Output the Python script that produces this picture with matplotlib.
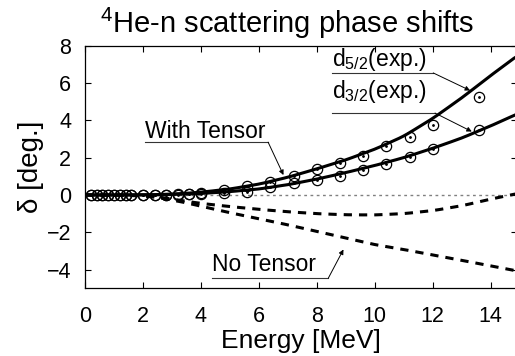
import numpy as np
import matplotlib
matplotlib.use("Agg")
import matplotlib.pyplot as plt

plt.rcParams['font.family'] = ['Liberation Sans', 'DejaVu Sans']
plt.rcParams['mathtext.fontset'] = 'custom'
plt.rcParams['mathtext.rm'] = 'Liberation Sans'
plt.rcParams['mathtext.it'] = 'Liberation Sans'

# experimental phase shifts
e_exp = [0.2, 0.4, 0.6, 0.8, 1.0, 1.2, 1.4, 1.6, 2.0, 2.4, 2.8, 3.2, 3.6, 4.0,
         4.8, 5.6, 6.4, 7.2, 8.0, 8.8, 9.6, 10.4, 11.2, 12.0, 13.6]
d52_exp = [0, 0, 0, 0, 0, 0, 0, 0, 0, 0.01, 0.02, 0.04, 0.07, 0.12,
           0.27, 0.48, 0.72, 1.0, 1.38, 1.7, 2.1, 2.6, 3.1, 3.76, 5.23]
d32_exp = [0, 0, 0, 0, 0, 0, 0, 0, 0, 0, 0.01, 0.02, 0.03, 0.05,
           0.08, 0.18, 0.41, 0.63, 0.8, 1.02, 1.34, 1.67, 2.06, 2.47, 3.5]

# calculations
e_calc = [0, 1, 2, 2.5, 3, 3.5, 4, 5, 6, 7, 8, 9, 10, 11, 12, 13, 14, 15]
d52_tensor = [0, 0, 0.01, 0.02, 0.05, 0.09, 0.15, 0.32, 0.58, 0.95, 1.4, 1.88,
              2.45, 3.15, 4.1, 5.2, 6.4, 7.55]
d32_tensor = [0, 0, 0, 0.01, 0.03, 0.05, 0.08, 0.18, 0.32, 0.55, 0.85, 1.2,
              1.58, 2.0, 2.5, 3.05, 3.7, 4.4]
d52_none = [0, 0, -0.03, -0.1, -0.22, -0.34, -0.45, -0.62, -0.77, -0.9, -1.0,
            -1.06, -1.07, -1.0, -0.84, -0.58, -0.22, 0.1]
d32_none = [0, 0, -0.05, -0.13, -0.27, -0.42, -0.6, -0.95, -1.27, -1.6, -1.95,
            -2.3, -2.66, -2.92, -3.22, -3.5, -3.8, -4.1]


def smooth(x, y):
    # linear interpolation on a fine grid, then a short moving average
    xs = np.linspace(x[0], x[-1], 300)
    ys = np.interp(xs, x, y)
    k = 9
    ker = np.ones(k) / k
    yp = np.concatenate([np.full(k // 2, ys[0]), ys, np.full(k // 2, ys[-1])])
    return xs, np.convolve(yp, ker, mode='valid')


fig = plt.figure(figsize=(5.15, 3.56), dpi=100)
ax = fig.add_axes([85 / 515, 1 - 288.3 / 356, 432 / 515, 242.6 / 356])

ax.plot([0, 15], [0, 0], color='gray', lw=1.0, ls=(0, (2, 2.5)))

for y in (d52_tensor, d32_tensor):
    xs, ys = smooth(e_calc, y)
    ax.plot(xs, ys, color='black', lw=2.2, solid_capstyle='butt')
for y in (d52_none, d32_none):
    xs, ys = smooth(e_calc, y)
    ax.plot(xs, ys, color='black', lw=2.2, ls=(0, (2.7, 2.3)))

for y in (d52_exp, d32_exp):
    ax.plot(e_exp, y, 'o', ms=7.4, mfc='none', mec='black', mew=0.9)
    ax.plot(e_exp, y, '.', ms=2.0, color='black')

ax.set_xlim(0, 14.91)
ax.set_ylim(-5, 8)
ax.set_xticks(range(0, 15, 2))
ax.set_yticks(range(-4, 9, 2))
ax.tick_params(direction='in', length=4, width=0.8, labelsize=15.5, top=True,
               right=True)
ax.tick_params(axis='x', pad=13)
ax.tick_params(axis='y', pad=10)
for s in ax.spines.values():
    s.set_linewidth(0.9)

ax.set_xlabel('Energy [MeV]', fontsize=19, labelpad=1)
ax.set_ylabel('δ [deg.]', fontsize=20, labelpad=2)
fig.text(287 / 515, 1 - 23 / 356, '$^4$He-n scattering phase shifts',
         fontsize=21, ha='center', va='center')

# annotations
labels = [
    ('With Tensor', 2.07, 3.06, 6.32, 2.83, 6.85, 1.07),
    ('d$_{5/2}$(exp.)', 8.51, 6.9, 12.02, 6.54, 13.29, 5.6),
    ('d$_{3/2}$(exp.)', 8.51, 5.2, 12.08, 4.39, 13.35, 3.4),
    ('No Tensor', 4.37, -4.09, 8.4, -4.45, 8.92, -2.92),
]
for txt, x0, yb, x1, yu, xa, ya in labels:
    ax.text(x0, yb, txt, fontsize=16.5, va='baseline', ha='left')
    ax.plot([x0, x1], [yu, yu], color='#333333', lw=0.8)
    ax.annotate('', xy=(xa, ya), xytext=(x1, yu),
                arrowprops=dict(arrowstyle='-|>', color='black', lw=0.7,
                                mutation_scale=7, shrinkA=0, shrinkB=0))

fig.savefig('out.png', dpi=100)
